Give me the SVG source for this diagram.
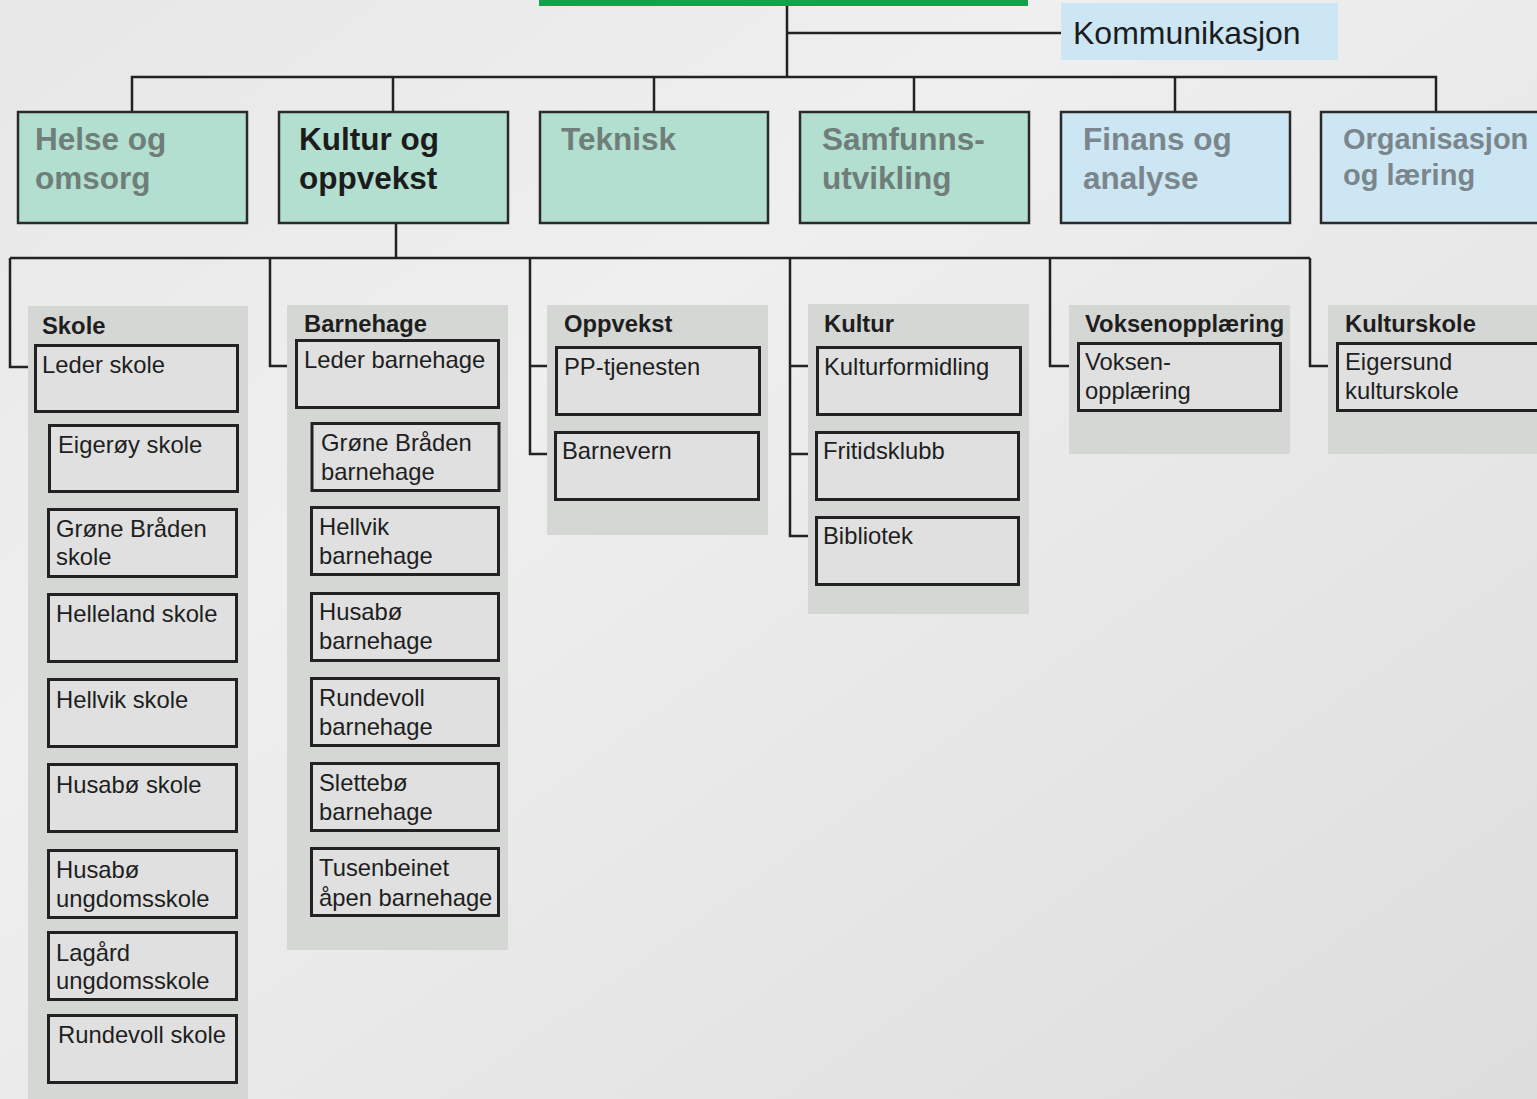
<svg xmlns="http://www.w3.org/2000/svg" width="1537" height="1099" viewBox="0 0 1537 1099">
<defs>
<linearGradient id="bg" x1="0" y1="0" x2="1" y2="1">
<stop offset="0" stop-color="#e6e7e6"/>
<stop offset="0.35" stop-color="#eeefee"/>
<stop offset="1" stop-color="#dcdddc"/>
</linearGradient>
<style>
.top{stroke:#2a2a2a;stroke-width:2.5}
.g{fill:#b3dfd0}
.b{fill:#cde6f4}
.tt{font-family:"Liberation Sans",Arial,sans-serif;font-weight:bold;font-size:31.5px}
.tt.sm{font-size:29px}
.tg{fill:#6f7e78}
.tb{fill:#7a868c}
.tk{fill:#1c1c1c}
.panel{fill:#d5d7d4}
.ph{font-family:"Liberation Sans",Arial,sans-serif;font-weight:bold;font-size:23.8px;fill:#1e1e1e}
.box{fill:#dfe0df;stroke:#222;stroke-width:3}
.lbl{font-family:"Liberation Sans",Arial,sans-serif;font-size:23.8px;fill:#1e1e1e}
.con{fill:none;stroke:#222;stroke-width:2.5}
.con2{fill:none;stroke:#222;stroke-width:3}
</style>
</defs>
<rect x="0" y="0" width="1537" height="1099" fill="url(#bg)"/>
<rect id="topbar" x="539" y="0" width="489" height="6" fill="#15a04b"/>

<g id="connectors">
<path class="con" d="M787 6V77M787 33H1061M132 111V77H1436V111M393 77V111M654 77V111M914 77V111M1175 77V111"/>
<path class="con" d="M396 223V258M10 258H1310"/>
<path class="con" d="M10 258V367H35M270 258V366H296M530 258V454H555M530 366H556M790 258V536H816M790 366H817M790 454H816M1050 258V366H1078M1310 258V366H1337"/>
<path class="con2" d="M38 412V1045H49M38 456H49M38 541H49M38 626H49M38 711H49M38 796H49M38 877H49M38 960H49"/>
<path class="con2" d="M301 407V883H311M301 458H311M301 540H311M301 626H311M301 710H311M301 797H311"/>
</g>

<g id="n-kommunikasjon">
<rect x="1061" y="3" width="277" height="57" class="b"/>
<text x="1073" y="44" font-family="Liberation Sans, Arial, sans-serif" font-size="32" fill="#1c1c1c">Kommunikasjon</text>
</g>

<g id="n-helse">
<rect x="18" y="112" width="229" height="111" class="g top"/>
<text class="tt tg" x="35" y="150">Helse og</text>
<text class="tt tg" x="35" y="189">omsorg</text>
</g>
<g id="n-kultur-oppvekst">
<rect x="279" y="112" width="229" height="111" class="g top"/>
<text class="tt tk" x="299" y="150">Kultur og</text>
<text class="tt tk" x="299" y="189">oppvekst</text>
</g>
<g id="n-teknisk">
<rect x="540" y="112" width="228" height="111" class="g top"/>
<text class="tt tg" x="561" y="150">Teknisk</text>
</g>
<g id="n-samfunn">
<rect x="800" y="112" width="229" height="111" class="g top"/>
<text class="tt tg" x="822" y="150">Samfunns-</text>
<text class="tt tg" x="822" y="189">utvikling</text>
</g>
<g id="n-finans">
<rect x="1061" y="112" width="229" height="111" class="b top"/>
<text class="tt tb" x="1083" y="150">Finans og</text>
<text class="tt tb" x="1083" y="189">analyse</text>
</g>
<g id="n-organisasjon">
<rect x="1321" y="112" width="230" height="111" class="b top"/>
<text class="tt sm tb" x="1343" y="149">Organisasjon</text>
<text class="tt sm tb" x="1343" y="185">og læring</text>
</g>

<g id="p-skole">
<rect class="panel" x="28" y="306" width="220" height="800"/>
<text class="ph" x="42" y="334">Skole</text>
</g>
<g id="p-barnehage">
<rect class="panel" x="287" y="305" width="221" height="645"/>
<text class="ph" x="304" y="332">Barnehage</text>
</g>
<g id="p-oppvekst">
<rect class="panel" x="547" y="305" width="221" height="230"/>
<text class="ph" x="564" y="332">Oppvekst</text>
</g>
<g id="p-kultur">
<rect class="panel" x="808" y="304" width="221" height="310"/>
<text class="ph" x="824" y="332">Kultur</text>
</g>
<g id="p-voksen">
<rect class="panel" x="1069" y="305" width="221" height="149"/>
<text class="ph" x="1085" y="332">Voksenopplæring</text>
</g>
<g id="p-kulturskole">
<rect class="panel" x="1328" y="305" width="215" height="149"/>
<text class="ph" x="1345" y="332">Kulturskole</text>
</g>

<g id="n-leder-skole"><rect class="box" x="35.5" y="345.5" width="202" height="66"/><text class="lbl" x="42" y="373">Leder skole</text></g>
<g id="n-eigeroy"><rect class="box" x="49.5" y="425.5" width="188" height="66"/><text class="lbl" x="58" y="453">Eigerøy skole</text></g>
<g id="n-grone-skole"><rect class="box" x="48.5" y="509.5" width="188" height="67"/><text class="lbl" x="56" y="537">Grøne Bråden</text><text class="lbl" x="56" y="565">skole</text></g>
<g id="n-helleland"><rect class="box" x="48.5" y="594.5" width="188" height="67"/><text class="lbl" x="56" y="622">Helleland skole</text></g>
<g id="n-hellvik-skole"><rect class="box" x="48.5" y="679.5" width="188" height="67"/><text class="lbl" x="56" y="708">Hellvik skole</text></g>
<g id="n-husabo-skole"><rect class="box" x="48.5" y="764.5" width="188" height="67"/><text class="lbl" x="56" y="793">Husabø skole</text></g>
<g id="n-husabo-ungdom"><rect class="box" x="48.5" y="850.5" width="188" height="67"/><text class="lbl" x="56" y="878">Husabø</text><text class="lbl" x="56" y="907">ungdomsskole</text></g>
<g id="n-lagard"><rect class="box" x="48.5" y="932.5" width="188" height="67"/><text class="lbl" x="56" y="961">Lagård</text><text class="lbl" x="56" y="989">ungdomsskole</text></g>
<g id="n-rundevoll-skole"><rect class="box" x="48.5" y="1015.5" width="188" height="67"/><text class="lbl" x="58" y="1043">Rundevoll skole</text></g>

<g id="n-leder-barnehage"><rect class="box" x="296.5" y="340.5" width="202" height="67"/><text class="lbl" x="304" y="368">Leder barnehage</text></g>
<g id="n-grone-bh"><rect class="box" x="312" y="423.5" width="187" height="67"/><text class="lbl" x="321" y="451">Grøne Bråden</text><text class="lbl" x="321" y="480">barnehage</text></g>
<g id="n-hellvik-bh"><rect class="box" x="311.5" y="507.5" width="187" height="67"/><text class="lbl" x="319" y="535">Hellvik</text><text class="lbl" x="319" y="564">barnehage</text></g>
<g id="n-husabo-bh"><rect class="box" x="311.5" y="593.5" width="187" height="67"/><text class="lbl" x="319" y="620">Husabø</text><text class="lbl" x="319" y="649">barnehage</text></g>
<g id="n-rundevoll-bh"><rect class="box" x="311.5" y="678.5" width="187" height="67"/><text class="lbl" x="319" y="706">Rundevoll</text><text class="lbl" x="319" y="735">barnehage</text></g>
<g id="n-slettebo-bh"><rect class="box" x="311.5" y="763.5" width="187" height="67"/><text class="lbl" x="319" y="791">Slettebø</text><text class="lbl" x="319" y="820">barnehage</text></g>
<g id="n-tusenbeinet"><rect class="box" x="311.5" y="848.5" width="187" height="67"/><text class="lbl" x="319" y="876">Tusenbeinet</text><text class="lbl" x="319" y="906">åpen barnehage</text></g>

<g id="n-pp"><rect class="box" x="556.5" y="347.5" width="203" height="67"/><text class="lbl" x="564" y="375">PP-tjenesten</text></g>
<g id="n-barnevern"><rect class="box" x="555.5" y="432.5" width="203" height="67"/><text class="lbl" x="562" y="459">Barnevern</text></g>

<g id="n-kulturformidling"><rect class="box" x="817.5" y="347.5" width="203" height="67"/><text class="lbl" x="824" y="375">Kulturformidling</text></g>
<g id="n-fritidsklubb"><rect class="box" x="816.5" y="432.5" width="202" height="67"/><text class="lbl" x="823" y="459">Fritidsklubb</text></g>
<g id="n-bibliotek"><rect class="box" x="816.5" y="517.5" width="202" height="67"/><text class="lbl" x="823" y="544">Bibliotek</text></g>

<g id="n-voksen"><rect class="box" x="1078.5" y="343.5" width="202" height="67"/><text class="lbl" x="1085" y="370">Voksen-</text><text class="lbl" x="1085" y="399">opplæring</text></g>
<g id="n-eigersund-kulturskole"><rect class="box" x="1337.5" y="343.5" width="210" height="67"/><text class="lbl" x="1345" y="370">Eigersund</text><text class="lbl" x="1345" y="399">kulturskole</text></g>
</svg>
